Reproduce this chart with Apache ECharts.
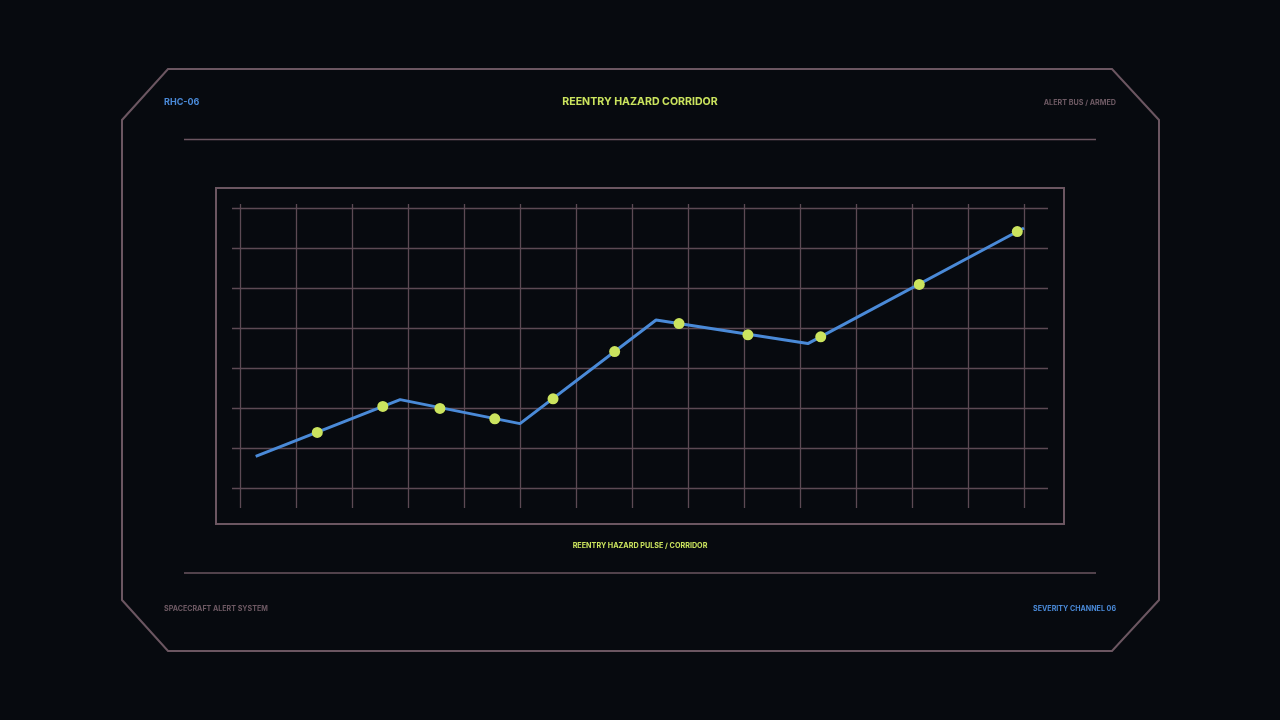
<!DOCTYPE html>
<html>
<head>
<meta charset="utf-8">
<script src="https://cdn.jsdelivr.net/npm/echarts@6/dist/echarts.min.js"></script>
<style>
html,body{margin:0;padding:0;background:#070a0f;}
#c{width:1280px;height:720px;}
</style>
</head>
<body>
<div id="c"></div>
<script>
// ---- data ----
const corridorLine = [[0.28, 7.9], [2.86, 22.1], [5.0, 16.1], [7.43, 42.0], [10.14, 36.1], [14.0, 65.0]];
const pulsePoints = [[1.38, 13.9], [2.55, 20.4], [3.57, 19.9], [4.55, 17.3], [5.59, 22.3], [6.69, 34.1], [7.84, 41.1], [9.07, 38.3], [10.37, 37.8], [12.13, 50.9], [13.88, 64.1]];
const xRange = [0, 14, 1];
const yRange = [0, 70, 10];
const titleText = 'REENTRY HAZARD CORRIDOR';
const codeText = 'RHC-06';
const busText = 'ALERT BUS / ARMED';
const seriesCaption = 'REENTRY HAZARD PULSE / CORRIDOR';
const systemText = 'SPACECRAFT ALERT SYSTEM';
const channelText = 'SEVERITY CHANNEL 06';

// ---- styles ----
const BG = '#070a0f';
const FRAME = '#6b5661';
const GRIDC = '#5c4a54';
const BLUE = '#4a8ad8';
const LIME = '#cbe45e';
const MAUVE = '#6e5a64';
const FONT = 'Inter, "Noto Sans", sans-serif';

const chart = echarts.init(document.getElementById('c'), null, {renderer: 'canvas'});

const hiddenAxis = (gi) => ({type: 'value', gridIndex: gi, show: false, min: 0, max: 1});
const gridAxisBase = {
  axisLine: {show: false}, axisTick: {show: false}, axisLabel: {show: false},
  splitLine: {show: true, lineStyle: {color: GRIDC, width: 1.3}}
};

chart.setOption({
  backgroundColor: BG,
  animation: false,
  grid: [
    {left: 240, right: 256, top: 208, bottom: 232, containLabel: false, outerBoundsMode: 'none'},
    {left: 232, right: 232, top: 208, bottom: 232, containLabel: false, outerBoundsMode: 'none'},
    {left: 240, right: 256, top: 204, bottom: 212, containLabel: false, outerBoundsMode: 'none'}
  ],
  xAxis: [
    {type: 'value', gridIndex: 0, min: xRange[0], max: xRange[1], interval: xRange[2],
     axisLine: {show: false}, axisTick: {show: false}, axisLabel: {show: false}, splitLine: {show: false}},
    hiddenAxis(1),
    Object.assign({type: 'value', gridIndex: 2, min: xRange[0], max: xRange[1], interval: xRange[2]}, gridAxisBase)
  ],
  yAxis: [
    {type: 'value', gridIndex: 0, min: yRange[0], max: yRange[1], interval: yRange[2],
     axisLine: {show: false}, axisTick: {show: false}, axisLabel: {show: false}, splitLine: {show: false}},
    Object.assign({type: 'value', gridIndex: 1, min: yRange[0], max: yRange[1], interval: yRange[2]}, gridAxisBase),
    hiddenAxis(2)
  ],
  series: [
    {
      type: 'line', name: 'corridor', xAxisIndex: 0, yAxisIndex: 0,
      data: corridorLine, showSymbol: false, symbol: 'none', clip: false,
      lineStyle: {color: BLUE, width: 3}, z: 3
    },
    {
      type: 'scatter', name: 'pulse', xAxisIndex: 0, yAxisIndex: 0,
      data: pulsePoints, symbol: 'circle', symbolSize: 11,
      itemStyle: {color: LIME, opacity: 1}, z: 4
    }
  ],
  graphic: [
    {type: 'polygon', shape: {points: [[168,69],[1112,69],[1159,120],[1159,600],[1112,651],[168,651],[122,600],[122,120]]},
     style: {fill: 'none', stroke: FRAME, lineWidth: 2}, silent: true, z: 1},
    {type: 'line', shape: {x1: 184, y1: 139.5, x2: 1096, y2: 139.5}, style: {stroke: FRAME, lineWidth: 1.5}, silent: true},
    {type: 'line', shape: {x1: 184, y1: 573, x2: 1096, y2: 573}, style: {stroke: FRAME, lineWidth: 1.5}, silent: true},
    {type: 'rect', shape: {x: 216, y: 188, width: 848, height: 336}, style: {fill: 'none', stroke: FRAME, lineWidth: 2}, silent: true},
    {type: 'text', x: 164, y: 102, style: {text: codeText, fill: BLUE, font: 'bold 9px ' + FONT, textAlign: 'left', textVerticalAlign: 'middle'}},
    {type: 'text', x: 640, y: 102, style: {text: titleText, fill: LIME, font: 'bold 10.6px ' + FONT, textAlign: 'center', textVerticalAlign: 'middle'}},
    {type: 'text', x: 1116, y: 103, style: {text: busText, fill: MAUVE, font: 'bold 7.2px ' + FONT, textAlign: 'right', textVerticalAlign: 'middle'}},
    {type: 'text', x: 640, y: 545.5, style: {text: seriesCaption, fill: LIME, font: 'bold 7.2px ' + FONT, textAlign: 'center', textVerticalAlign: 'middle'}},
    {type: 'text', x: 164, y: 609, style: {text: systemText, fill: MAUVE, font: 'bold 7.1px ' + FONT, textAlign: 'left', textVerticalAlign: 'middle'}},
    {type: 'text', x: 1116, y: 609, style: {text: channelText, fill: BLUE, font: 'bold 7.1px ' + FONT, textAlign: 'right', textVerticalAlign: 'middle'}}
  ]
});
</script>
</body>
</html>
